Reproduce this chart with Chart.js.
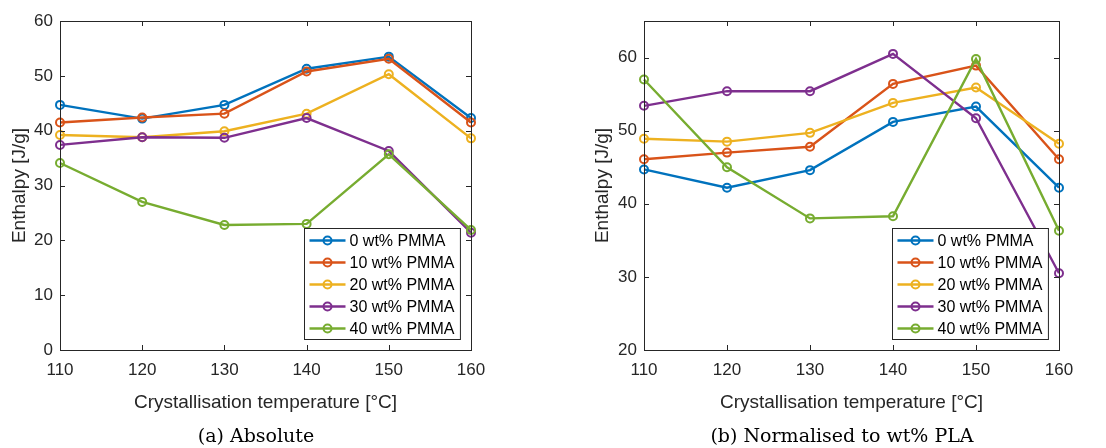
<!DOCTYPE html>
<html>
<head>
<meta charset="utf-8">
<script src="https://cdn.jsdelivr.net/npm/chart.js@4"></script>
<style>
body { margin: 0; background: #fff; }
.panel { position: absolute; top: 0; width: 553px; height: 448px; }
.caption { position: absolute; top: 424px; font-family: "DejaVu Serif", serif; font-size: 19px; color: #000; text-align: center; transform: translateX(-50%); white-space: nowrap; }
</style>
</head>
<body>
<div class="panel" style="left:0"><canvas id="absChart" width="553" height="448"></canvas></div>
<div class="panel" style="left:553px"><canvas id="normChart" width="553" height="448"></canvas></div>
<div class="caption" style="left:256px">(a) Absolute</div>
<div class="caption" style="left:842px">(b) Normalised to wt% PLA</div>
<script>
// crystallisation temperatures [°C]
const temps = [110, 120, 130, 140, 150, 160];
const seriesNames = ["0 wt% PMMA", "10 wt% PMMA", "20 wt% PMMA", "30 wt% PMMA", "40 wt% PMMA"];
const colours = ["#0072BD", "#D95319", "#EDB120", "#7E2F8E", "#77AC30"];

// (a) absolute enthalpy [J/g]
const abs0  = [44.7, 42.2, 44.7, 51.3, 53.5, 42.3];
const abs10 = [41.5, 42.4, 43.1, 50.8, 53.1, 41.5];
const abs20 = [39.2, 38.8, 39.9, 43.1, 50.3, 38.6];
const abs30 = [37.4, 38.8, 38.7, 42.3, 36.3, 21.4];
const abs40 = [34.1, 27.0, 22.8, 23.0, 35.7, 21.9];

// (b) normalised to wt% PLA [J/g]
const norm0  = [44.7, 42.2, 44.6, 51.2, 53.3, 42.2];
const norm10 = [46.1, 47.0, 47.8, 56.4, 58.9, 46.1];
const norm20 = [48.9, 48.5, 49.7, 53.8, 55.9, 48.2];
const norm30 = [53.4, 55.4, 55.4, 60.5, 51.7, 30.5];
const norm40 = [57.0, 45.0, 38.0, 38.3, 59.8, 36.3];

const axisCol = "#262626";

// box round the axes with inward tick marks, matlab style
const boxPlugin = {
    id: "boxTicks",
    afterDraw(chart) {
        const ctx = chart.ctx, a = chart.chartArea;
        const xs = chart.scales.x, ys = chart.scales.y;
        ctx.save();
        ctx.strokeStyle = axisCol;
        ctx.lineWidth = 1;
        ctx.strokeRect(a.left + 0.5, a.top + 0.5, a.right - a.left, a.bottom - a.top);
        ctx.beginPath();
        xs.ticks.forEach((t, i) => {
            const px = Math.round(xs.getPixelForTick(i)) + 0.5;
            ctx.moveTo(px, a.bottom); ctx.lineTo(px, a.bottom - 5);
            ctx.moveTo(px, a.top); ctx.lineTo(px, a.top + 5);
        });
        ys.ticks.forEach((t, i) => {
            const py = Math.round(ys.getPixelForTick(i)) + 0.5;
            ctx.moveTo(a.left, py); ctx.lineTo(a.left + 5, py);
            ctx.moveTo(a.right, py); ctx.lineTo(a.right - 5, py);
        });
        ctx.stroke();
        ctx.restore();
    }
};

// legend drawn inside the plot, lower right corner
const insideLegend = {
    id: "insideLegend",
    afterDraw(chart) {
        const ctx = chart.ctx, a = chart.chartArea;
        const sets = chart.data.datasets;
        ctx.save();
        ctx.font = "16px 'Liberation Sans', Arial, sans-serif";
        let tw = 0;
        sets.forEach(ds => { tw = Math.max(tw, ctx.measureText(ds.label).width); });
        const rowH = 22;
        const w = 45 + tw + 6, h = sets.length * rowH + 1;
        const x0 = Math.round(a.right - 11 - w) + 0.5, y0 = Math.round(a.bottom - 11 - h) + 0.5;
        ctx.fillStyle = "#fff";
        ctx.fillRect(x0, y0, w, h);
        ctx.strokeStyle = axisCol;
        ctx.lineWidth = 1;
        ctx.strokeRect(x0, y0, w, h);
        ctx.textBaseline = "middle";
        sets.forEach((ds, i) => {
            const cy = y0 + 12 + i * rowH;
            ctx.strokeStyle = ds.borderColor;
            ctx.lineWidth = 2.4;
            ctx.beginPath();
            ctx.moveTo(x0 + 5, cy); ctx.lineTo(x0 + 41, cy);
            ctx.stroke();
            ctx.lineWidth = 2;
            ctx.beginPath();
            ctx.arc(x0 + 23, cy, 4, 0, Math.PI * 2);
            ctx.stroke();
            ctx.fillStyle = "#000";
            ctx.fillText(ds.label, x0 + 45, cy + 1);
        });
        ctx.restore();
    }
};

function makeChart(id, series, yMin, yMax, padLeft, yWidth, padRight) {
    const datasets = series.map((vals, i) => ({
        label: seriesNames[i],
        data: vals,
        borderColor: colours[i],
        backgroundColor: colours[i],
        pointBackgroundColor: "rgba(0,0,0,0)",
        pointBorderColor: colours[i],
        pointRadius: 4,
        pointBorderWidth: 2,
        borderWidth: 2.4,
        fill: false,
        tension: 0,
        order: series.length - i
    }));
    const font = { family: "'Liberation Sans', Arial, sans-serif", size: 17 };
    const titleFont = { family: "'Liberation Sans', Arial, sans-serif", size: 19 };
    return new Chart(document.getElementById(id).getContext("2d"), {
        type: "line",
        data: { labels: temps, datasets: datasets },
        plugins: [boxPlugin, insideLegend],
        options: {
            responsive: false,
            animation: false,
            layout: { padding: { left: padLeft, right: padRight, top: 21, bottom: 28 } },
            plugins: { legend: { display: false }, tooltip: { enabled: false } },
            scales: {
                x: {
                    type: "category",
                    offset: false,
                    grid: { display: false, drawTicks: false },
                    border: { display: false },
                    ticks: { color: axisCol, font: font, padding: 10, maxRotation: 0 },
                    title: { display: true, text: "Crystallisation temperature [°C]", color: axisCol, font: titleFont, padding: { top: 0, bottom: 6 } },
                    afterFit: s => { s.height = 70; }
                },
                y: {
                    min: yMin,
                    max: yMax,
                    grid: { display: false, drawTicks: false },
                    border: { display: false },
                    ticks: { stepSize: 10, includeBounds: false, color: axisCol, font: font, padding: 7 },
                    title: { display: true, text: "Enthalpy [J/g]", color: axisCol, font: titleFont, padding: { top: 8.5, bottom: 0 } },
                    afterFit: s => { s.width = yWidth; }
                }
            }
        }
    });
}

makeChart("absChart", [abs0, abs10, abs20, abs30, abs40], 0, 60, 0, 60, 82);
makeChart("normChart", [norm0, norm10, norm20, norm30, norm40], 20, 65, 30, 61, 47);
</script>
</body>
</html>
